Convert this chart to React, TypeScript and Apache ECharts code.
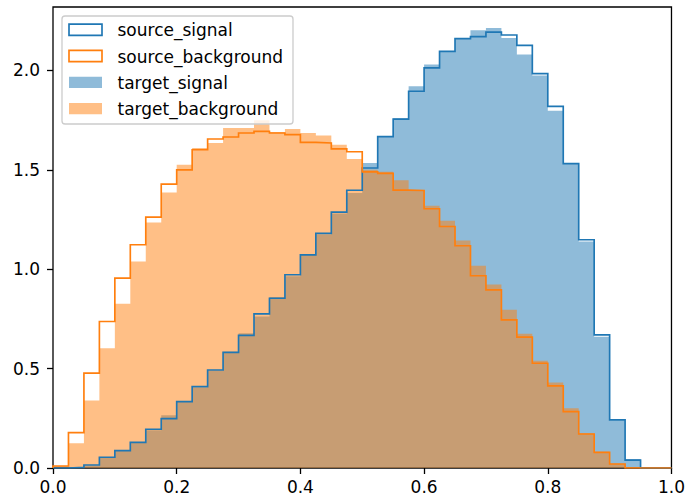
import React, { useEffect, useRef } from "react";
import * as echarts from "echarts";

// histogram bins: 40 bins of width 0.025 on [0, 1]
const BIN_START = 0;
const BIN_WIDTH = 0.025;

const sourceSignal = [
  0, 0.003, 0.015, 0.054, 0.087, 0.129, 0.195, 0.248, 0.334, 0.409,
  0.493, 0.582, 0.667, 0.775, 0.854, 0.972, 1.072, 1.18, 1.287, 1.397,
  1.509, 1.667, 1.755, 1.895, 2.013, 2.096, 2.16, 2.17, 2.193, 2.178,
  2.126, 1.984, 1.819, 1.531, 1.148, 0.67, 0.242, 0.04, 0, 0,
];
const sourceBackground = [
  0.01, 0.178, 0.477, 0.737, 0.955, 1.123, 1.262, 1.428, 1.5, 1.601,
  1.655, 1.665, 1.685, 1.693, 1.685, 1.677, 1.638, 1.635, 1.605, 1.591,
  1.49, 1.482, 1.398, 1.396, 1.304, 1.215, 1.118, 0.967, 0.896, 0.745,
  0.658, 0.527, 0.413, 0.284, 0.171, 0.079, 0.02, 0, 0, 0,
];
const targetSignal = [
  0, 0.005, 0.012, 0.05, 0.085, 0.13, 0.19, 0.265, 0.335, 0.405,
  0.49, 0.585, 0.678, 0.762, 0.86, 0.965, 1.075, 1.175, 1.28, 1.383,
  1.534, 1.67, 1.76, 1.92, 2.03, 2.096, 2.16, 2.202, 2.213, 2.163,
  2.08, 1.974, 1.797, 1.53, 1.14, 0.66, 0.24, 0.045, 0, 0,
];
const targetBackground = [
  0.01, 0.124, 0.339, 0.603, 0.826, 1.039, 1.235, 1.386, 1.526, 1.61,
  1.635, 1.71, 1.71, 1.749, 1.69, 1.705, 1.685, 1.672, 1.626, 1.554,
  1.5, 1.49, 1.447, 1.396, 1.319, 1.244, 1.145, 1.017, 0.923, 0.796,
  0.675, 0.54, 0.43, 0.3, 0.175, 0.082, 0.022, 0.005, 0, 0,
];

const seriesNames = ["source_signal", "source_background", "target_signal", "target_background"];
const xTicks = [0, 0.2, 0.4, 0.6, 0.8, 1.0];
const yTicks = [0, 0.5, 1.0, 1.5, 2.0];
const X_MIN = 0;
const X_MAX = 1;
const Y_MAX = 2.319;

const BLUE = "#1f77b4";
const ORANGE = "#ff7f0e";
const FONT = "DejaVu Sans";
const FS = 17;

function stepFill(vals: number[]) {
  const pts: number[][] = vals.map((v, i) => [BIN_START + i * BIN_WIDTH, v]);
  pts.push([BIN_START + vals.length * BIN_WIDTH, vals[vals.length - 1]]);
  return pts;
}
function stepOutline(vals: number[]) {
  const pts = stepFill(vals);
  return [[BIN_START, 0], ...pts, [BIN_START + vals.length * BIN_WIDTH, 0]];
}

export default function App() {
  const ref = useRef<HTMLDivElement>(null);
  useEffect(() => {
    if (!ref.current) return;
    const chart = echarts.init(ref.current, null, { renderer: "svg" });

    const legendItems = [
      { name: seriesNames[0], type: "outline", color: BLUE },
      { name: seriesNames[1], type: "outline", color: ORANGE },
      { name: seriesNames[2], type: "fill", color: BLUE },
      { name: seriesNames[3], type: "fill", color: ORANGE },
    ];
    const legendTop = 16;
    const legendLeft = 62;
    const rowGap = 26.3;
    const firstCenter = 29.7;
    const legendGraphics: any[] = [
      {
        type: "rect",
        shape: { x: legendLeft, y: legendTop, width: 231, height: 108, r: 3 },
        style: { fill: "rgba(255,255,255,0.8)", stroke: "#cccccc", lineWidth: 1.3 },
        z: 100,
      },
    ];
    legendItems.forEach((it, i) => {
      const cy = firstCenter + i * rowGap;
      legendGraphics.push({
        type: "rect",
        shape: { x: 69, y: cy - 5.6, width: 33, height: 11.2 },
        style:
          it.type === "outline"
            ? { fill: "rgba(0,0,0,0)", stroke: it.color, lineWidth: 1.67 }
            : { fill: it.color, opacity: 0.5 },
        z: 101,
      });
      legendGraphics.push({
        type: "text",
        x: 117.5,
        y: cy + 0.5,
        style: {
          text: it.name,
          fill: "#000",
          font: `${FS}px "${FONT}"`,
          verticalAlign: "middle",
          align: "left",
        },
        z: 101,
      });
    });

    chart.setOption({
      animation: false,
      grid: {
        left: 53,
        right: 15,
        top: 7,
        bottom: 32,
        show: true,
        borderColor: "#000",
        borderWidth: 1.3,
        backgroundColor: "transparent",
      },
      xAxis: {
        type: "value",
        min: X_MIN,
        max: X_MAX,
        interval: 0.2,
        axisLine: { show: false },
        splitLine: { show: false },
        axisTick: { show: true, length: 6, lineStyle: { color: "#000", width: 1.3 }, customValues: xTicks },
        axisLabel: {
          color: "#000",
          fontFamily: FONT,
          fontSize: FS,
          margin: 10,
          customValues: xTicks,
          formatter: (v: number) => v.toFixed(1),
        },
      },
      yAxis: {
        type: "value",
        min: 0,
        max: Y_MAX,
        interval: 0.5,
        axisLine: { show: false },
        splitLine: { show: false },
        axisTick: { show: true, length: 6, lineStyle: { color: "#000", width: 1.3 }, customValues: yTicks },
        axisLabel: {
          color: "#000",
          fontFamily: FONT,
          fontSize: FS,
          margin: 13,
          customValues: yTicks,
          formatter: (v: number) => v.toFixed(1),
        },
      },
      graphic: legendGraphics,
      series: [
        {
          name: seriesNames[2],
          type: "line",
          step: "end",
          data: stepFill(targetSignal),
          showSymbol: false,
          symbol: "none",
          lineStyle: { width: 0, opacity: 0 },
          areaStyle: { color: BLUE, opacity: 0.5 },
          z: 2,
        },
        {
          name: seriesNames[3],
          type: "line",
          step: "end",
          data: stepFill(targetBackground),
          showSymbol: false,
          symbol: "none",
          lineStyle: { width: 0, opacity: 0 },
          areaStyle: { color: ORANGE, opacity: 0.5 },
          z: 3,
        },
        {
          name: seriesNames[0],
          type: "line",
          step: "end",
          data: stepOutline(sourceSignal),
          showSymbol: false,
          symbol: "none",
          lineStyle: { color: BLUE, width: 1.67, join: "miter" },
          z: 4,
        },
        {
          name: seriesNames[1],
          type: "line",
          step: "end",
          data: stepOutline(sourceBackground),
          showSymbol: false,
          symbol: "none",
          lineStyle: { color: ORANGE, width: 1.67, join: "miter" },
          z: 5,
        },
      ],
    });
    return () => chart.dispose();
  }, []);
  return (
    <div
      ref={ref}
      style={{ position: "fixed", left: 0, top: 0, width: 688, height: 500, background: "#fff" }}
    />
  );
}
